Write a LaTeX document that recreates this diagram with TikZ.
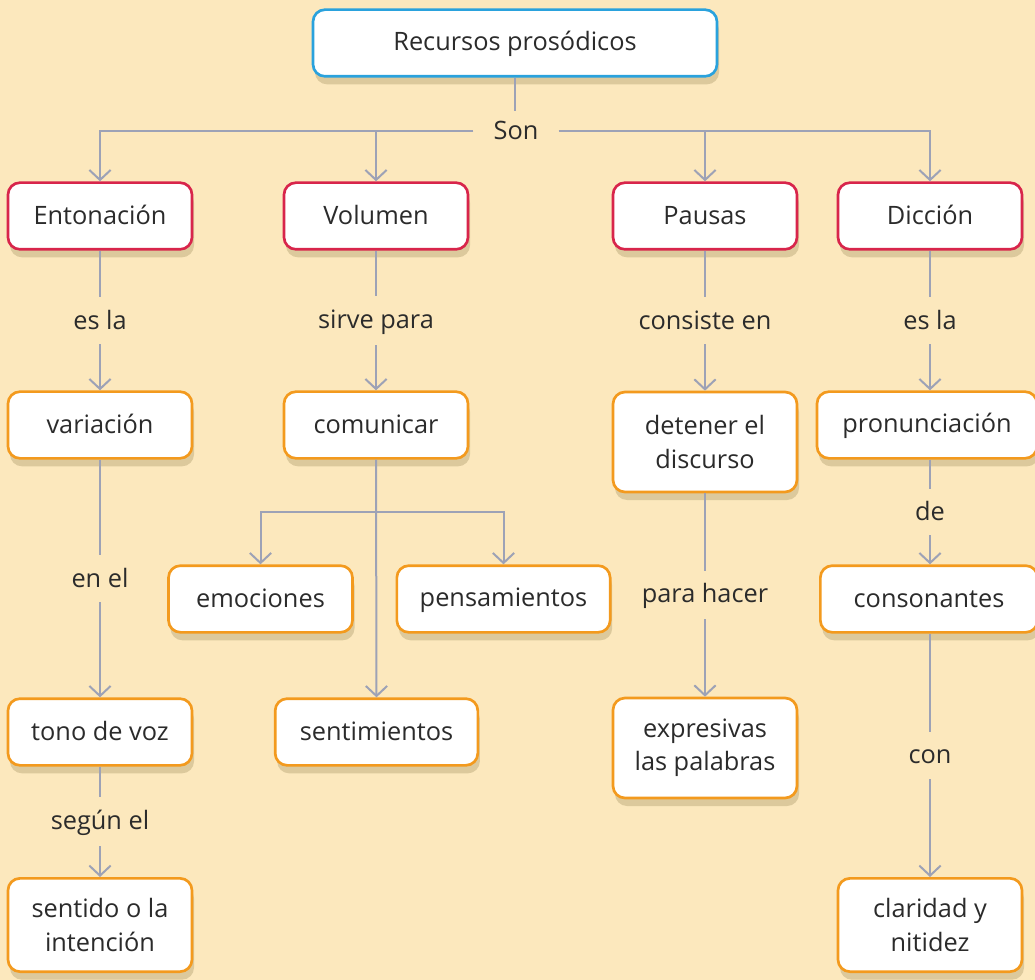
\documentclass[tikz,border=0pt]{standalone}
\usepackage{fontspec}
\setmainfont{Open Sans}
\usetikzlibrary{arrows.meta,shadows}
\definecolor{bg}{HTML}{FCE8BD}
\definecolor{shc}{HTML}{DCC99C}
\definecolor{blueb}{HTML}{2AA2DD}
\definecolor{redb}{HTML}{D8254B}
\definecolor{orab}{HTML}{F39A1E}
\definecolor{linec}{HTML}{9DA2B6}
\definecolor{txt}{HTML}{2B2B2B}
\newcommand{\ms}{\rule[-0.16em]{0pt}{1.0em}}
\tikzset{
  box/.style={draw, fill=white, line width=2pt, rounded corners=9pt,
    minimum width=138pt, minimum height=50pt, align=center, inner sep=2pt,
    text=txt, font=\fontsize{19}{25}\selectfont,
    drop shadow={shadow xshift=1.5pt, shadow yshift=-6pt, fill=shc, opacity=1}},
  topbox/.style={box, draw=blueb},
  redbox/.style={box, draw=redb},
  orbox/.style={box, draw=orab},
  arr/.style={draw=linec, line width=1.5pt, -{Straight Barb[length=7.5pt,width=16pt]}},
  ln/.style={draw=linec, line width=1.5pt},
  lbl/.style={fill=bg, text=txt, font=\fontsize{19}{23}\selectfont, inner xsep=4pt, inner ysep=8pt},
}
\begin{document}
\begin{tikzpicture}[x=0.75pt,y=-0.75pt]
\fill[bg] (0,0) rectangle (1035,980);
\useasboundingbox (0,0) rectangle (1035,980);

\node[topbox, minimum width=303pt] (top) at (515,43) {\ms Recursos prosódicos};
\node[fill=bg, text=txt, font=\fontsize{19}{23}\selectfont, inner xsep=15pt, inner ysep=5pt] (son) at (516,131) {\ms Son};

\node[redbox] (ent) at (100,216) {\ms Entonación};
\node[redbox] (vol) at (376,216) {\ms Volumen};
\node[redbox] (pau) at (705,216) {\ms Pausas};
\node[redbox] (dic) at (930,216) {\ms Dicción};

\node[orbox] (var) at (100,425) {\ms variación};
\node[orbox] (com) at (376,425) {\ms comunicar};
\node[orbox, minimum height=75pt] (det) at (705,442) {detener el\\discurso};
\node[orbox, minimum width=165pt] (pro) at (927,425) {\ms pronunciación};

\node[orbox] (emo) at (260.5,599) {\ms emociones};
\node[orbox, minimum width=160pt] (pen) at (503.5,599) {\ms pensamientos};
\node[orbox, minimum width=163pt] (con) at (929,599) {\ms consonantes};

\node[orbox] (ton) at (100,732) {\ms tono de voz};
\node[orbox, minimum width=152pt] (sen) at (376.5,732) {\ms sentimientos};
\node[orbox, minimum height=75pt] (exp) at (705,748) {expresivas\\las palabras};

\node[orbox, minimum height=70pt] (sin) at (100,925) {sentido o la\\intención};
\node[orbox, minimum height=70pt] (cla) at (930,925) {claridad y\\nitidez};

% top connectors
\draw[ln] (top.south) -- (son.north -| top.south);
\draw[arr] (son.west) -| (ent.north);
\draw[arr] (son.west -| vol.north) -- (vol.north);
\draw[arr] (son.east) -| (dic.north);
\draw[arr] (son.east -| pau.north) -- (pau.north);

% columns
\draw[arr] (ent.south) -- node[lbl]{\ms es la} (var.north);
\draw[arr] (var.south) -- node[lbl]{\ms en el} (ton.north);
\draw[arr] (ton.south) -- node[lbl]{\ms según el} (sin.north);

\draw[arr] (vol.south) -- node[lbl]{\ms sirve para} (com.north);
\draw[arr] (com.south) -- (sen.north);
\coordinate (br) at (376,512);
\draw[arr] (br) -| (emo.north);
\draw[arr] (br) -| (pen.north);

\draw[arr] (pau.south) -- node[lbl]{\ms consiste en} (det.north);
\draw[arr] (det.south) -- node[lbl]{\ms para hacer} (exp.north);

\draw[arr] (dic.south) -- node[lbl]{\ms es la} (dic.south |- pro.north);
\draw[arr] (dic.south |- pro.south) -- node[lbl]{\ms de} (dic.south |- con.north);
\draw[arr] (dic.south |- con.south) -- node[lbl]{\ms con} (cla.north);
\end{tikzpicture}
\end{document}
